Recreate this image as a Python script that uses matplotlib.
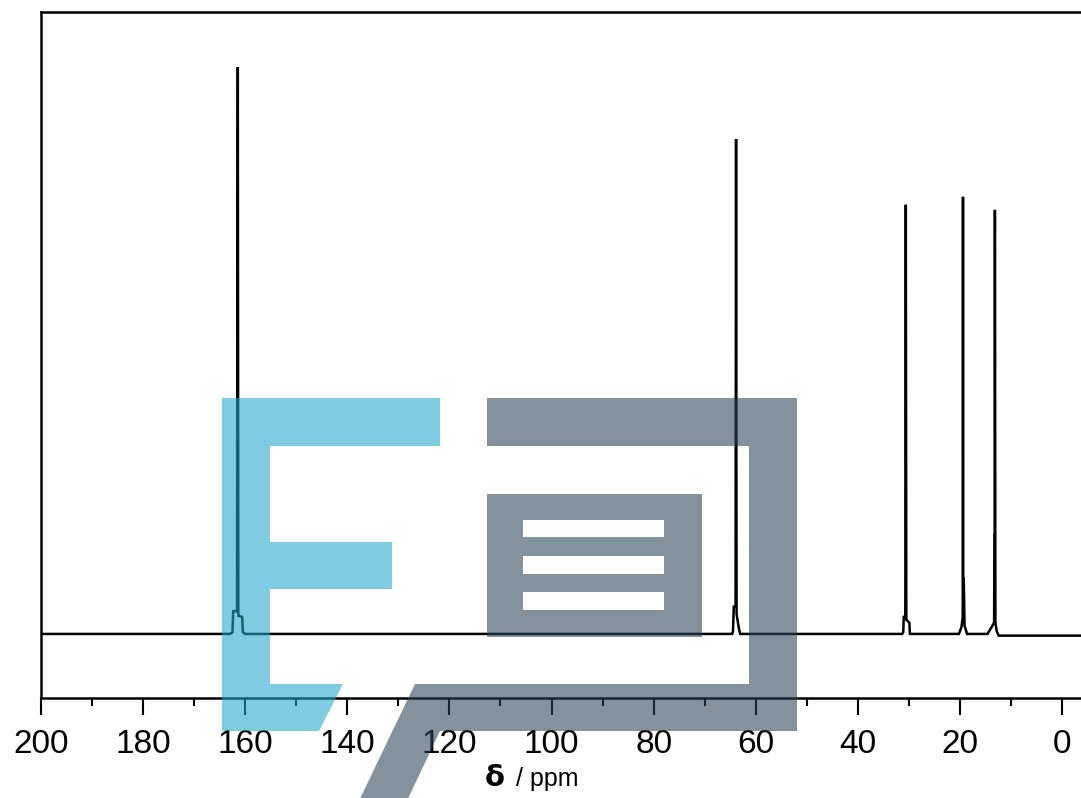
import matplotlib
matplotlib.use("Agg")
import matplotlib.pyplot as plt
from matplotlib.patches import Polygon
from matplotlib import transforms

# ---- spectrum data (ppm, intensity) ----
ppm = [200.0, 163.0, 162.5, 162.35, 161.6, 161.45, 161.35, 160.6, 160.45, 160.0,
       64.6, 64.45, 64.3, 63.95, 63.85, 63.75, 63.3, 63.05,
       31.3, 31.1, 31.0, 30.7, 30.6, 30.5, 29.9, 29.8,
       20.2, 19.7, 19.45, 19.4, 19.35, 19.25, 19.1, 18.6,
       14.6, 13.8, 13.3, 13.25, 13.2, 13.15, 13.05, 12.8, 12.4, -4.5]
intensity = [0.0, 0.0, 0.3, 4.0, 4.0, 100.0, 3.2, 3.0, 0.3, 0.0,
             0.0, 0.5, 4.8, 4.8, 87.3, 3.5, 1.0, 0.0,
             0.0, 0.3, 3.0, 3.0, 75.7, 2.5, 2.0, 0.0,
             0.0, 1.2, 3.0, 77.1, 9.7, 9.7, 1.5, 0.0,
             0.0, 1.2, 2.0, 17.3, 17.3, 74.8, 2.0, 0.5, -0.3, -0.3]

major_ticks = [200, 180, 160, 140, 120, 100, 80, 60, 40, 20, 0]
minor_ticks = [190, 170, 150, 130, 110, 90, 70, 50, 30, 10]
xlabel_main = "δ"
xlabel_unit = "/ ppm"

W, H = 1081, 798
fig = plt.figure(figsize=(W / 100, H / 100), dpi=100)
fig.patch.set_facecolor("white")

left_px, right_px, top_px, bot_px = 41, 1085, 12, 698
ax = fig.add_axes([left_px / W, 1 - bot_px / H, (right_px - left_px) / W, (bot_px - top_px) / H])
ax.plot(ppm, intensity, color="black", lw=1.8, solid_joinstyle="miter")
ax.set_xlim(200, -4.5)
ax.set_ylim(-11.3, 109.7)
ax.set_yticks([])
ax.set_xticks(major_ticks)
ax.set_xticks(minor_ticks, minor=True)
ax.set_xticklabels([str(t) for t in major_ticks], fontfamily="Liberation Sans", fontsize=24)
ax.tick_params(axis="x", which="major", direction="out", length=12, width=1.5, pad=10, colors="black")
ax.tick_params(axis="x", which="minor", direction="out", length=6, width=1.5)
for s in ["left", "top", "bottom", "right"]:
    ax.spines[s].set_linewidth(1.8)

fig.text(485 / W, 1 - 786 / H, xlabel_main, fontfamily="DejaVu Sans", fontweight="bold",
         fontsize=21, va="baseline", ha="left")
fig.text(516 / W, 1 - 786 / H, xlabel_unit, fontfamily="Liberation Sans",
         fontsize=18, va="baseline", ha="left")

# ---- watermark overlay (pixel coordinates, y down) ----
pix = transforms.Affine2D().scale(1 / W, -1 / H).translate(0, 1) + fig.transFigure
blue = (34 / 255, 167 / 255, 205 / 255)
grey = (42 / 255, 67 / 255, 85 / 255)
alpha = 0.58

blue_shapes = [
    [(222, 398), (440, 398), (440, 446), (270, 446), (270, 542), (392, 542), (392, 589),
     (270, 589), (270, 684), (343, 684), (319, 731), (222, 731)],
]
grey_shapes = [
    [(487, 398), (797, 398), (797, 731), (440, 731), (405, 805), (357, 805), (415, 684),
     (749, 684), (749, 446), (487, 446)],
]


def rect(x0, y0, x1, y1):
    return [(x0, y0), (x1, y0), (x1, y1), (x0, y1)]


# inner box with three white slots, as non-overlapping pieces
box_parts = [
    rect(487, 494, 702, 520),
    rect(487, 520, 523, 537), rect(664, 520, 702, 537),
    rect(487, 537, 702, 556),
    rect(487, 556, 523, 574), rect(664, 556, 702, 574),
    rect(487, 574, 702, 592),
    rect(487, 592, 523, 610), rect(664, 592, 702, 610),
    rect(487, 610, 702, 637),
]

for pts in blue_shapes:
    fig.add_artist(Polygon(pts, closed=True, transform=pix, facecolor=blue, alpha=alpha,
                           edgecolor="none", zorder=10))
for pts in grey_shapes:
    fig.add_artist(Polygon(pts, closed=True, transform=pix, facecolor=grey, alpha=alpha,
                           edgecolor="none", zorder=10))
for pts in box_parts:
    fig.add_artist(Polygon(pts, closed=True, transform=pix, facecolor=grey, alpha=alpha,
                           edgecolor="none", zorder=10, antialiased=False))

fig.savefig("out.png", dpi=100)
